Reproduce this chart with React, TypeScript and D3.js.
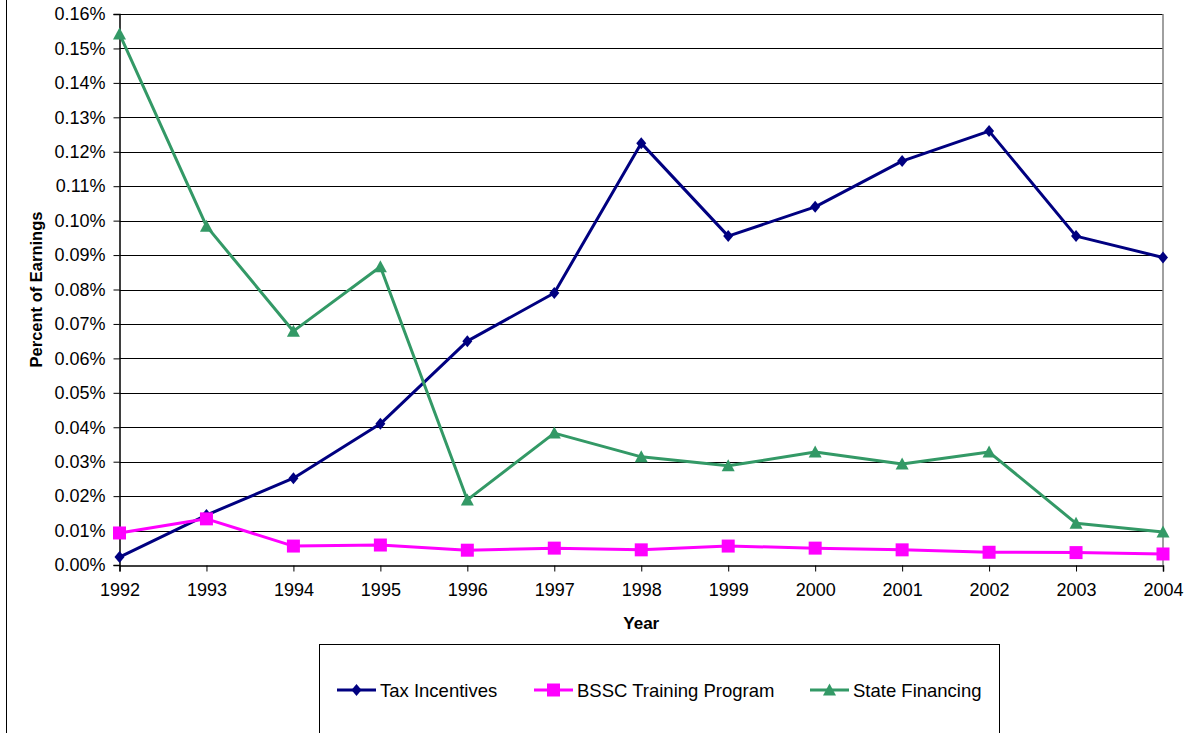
import * as d3 from "d3";
import {useEffect, useRef} from "react";

const years = [1992, 1993, 1994, 1995, 1996, 1997, 1998, 1999, 2000, 2001, 2002, 2003, 2004];
const taxIncentives = [0.0023, 0.0145, 0.0252, 0.041, 0.065, 0.079, 0.1225, 0.0955, 0.104, 0.1173, 0.126, 0.0955, 0.0893];
const bsscTraining = [0.0093, 0.0134, 0.0055, 0.0058, 0.0043, 0.0049, 0.0044, 0.0055, 0.0049, 0.0044, 0.0037, 0.0036, 0.0032];
const stateFinancing = [0.1542, 0.0984, 0.0679, 0.0866, 0.0189, 0.0383, 0.0314, 0.0288, 0.0328, 0.0293, 0.0328, 0.0121, 0.0096];
const yTicks = [0, 0.01, 0.02, 0.03, 0.04, 0.05, 0.06, 0.07, 0.08, 0.09, 0.1, 0.11, 0.12, 0.13, 0.14, 0.15, 0.16];

const series = [
    {name: "Tax Incentives", values: taxIncentives, color: "#000080", marker: "diamond"},
    {name: "BSSC Training Program", values: bsscTraining, color: "#FF00FF", marker: "square"},
    {name: "State Financing", values: stateFinancing, color: "#339966", marker: "triangle"},
];

export default function App() {
    const svgRef = useRef(null);
    const width = 1187;
    const height = 733;
    const margin = {top: 14, right: 24, bottom: 168, left: 119.5};

    useEffect(() => {
        if (!svgRef.current) return;
        d3.select(svgRef.current).selectAll("*").remove();
        const svg = d3.select(svgRef.current);
        const font = "'Liberation Sans', Arial, sans-serif";

        const x = d3.scaleLinear()
            .domain([1992, 2004])
            .range([margin.left, width - margin.right]);
        const y = d3.scaleLinear()
            .domain([0, 0.16])
            .range([height - margin.bottom, margin.top]);

        // outer chart border (only the left edge is visible)
        svg.append("rect")
            .attr("x", 6.5).attr("y", -5)
            .attr("width", 1300).attr("height", 800)
            .attr("fill", "none").attr("stroke", "#000").attr("stroke-width", 1);

        // gridlines
        svg.append("g").selectAll("line")
            .data(yTicks.slice(1))
            .join("line")
            .attr("x1", x(1992)).attr("x2", x(2004))
            .attr("y1", d => Math.round(y(d)) + 0.5).attr("y2", d => Math.round(y(d)) + 0.5)
            .attr("stroke", "#000").attr("stroke-width", 1);

        // right border
        svg.append("line")
            .attr("x1", x(2004)).attr("x2", x(2004))
            .attr("y1", y(0.16)).attr("y2", y(0))
            .attr("stroke", "#808080").attr("stroke-width", 1.5);

        // y axis
        const yAxis = svg.append("g")
            .attr("transform", `translate(${margin.left},0)`)
            .call(d3.axisLeft(y).tickValues(yTicks).tickSize(6).tickPadding(8)
                .tickFormat(d => `${(+d).toFixed(2)}%`));
        yAxis.select(".domain").attr("stroke", "#000").attr("stroke-width", 1.5);
        yAxis.selectAll(".tick line").attr("stroke", "#000");
        yAxis.selectAll("text").attr("font-family", font).attr("font-size", 18).attr("fill", "#000");

        // x axis
        const xAxis = svg.append("g")
            .attr("transform", `translate(0,${y(0) + 0.5})`)
            .call(d3.axisBottom(x).tickValues(years).tickSize(6).tickPadding(12)
                .tickFormat(d3.format("d")));
        xAxis.select(".domain").attr("stroke", "#000").attr("stroke-width", 1.5);
        xAxis.selectAll(".tick line").attr("stroke", "#000");
        xAxis.selectAll("text").attr("font-family", font).attr("font-size", 18).attr("fill", "#000");

        // axis titles
        svg.append("text")
            .attr("transform", `translate(42,${(y(0) + y(0.16)) / 2}) rotate(-90)`)
            .attr("text-anchor", "middle")
            .attr("font-family", font).attr("font-size", 16.5).attr("font-weight", "bold")
            .text("Percent of Earnings");
        svg.append("text")
            .attr("x", (x(1992) + x(2004)) / 2).attr("y", 629)
            .attr("text-anchor", "middle")
            .attr("font-family", font).attr("font-size", 17).attr("font-weight", "bold")
            .text("Year");

        const markerPath = (type: string) => {
            if (type === "diamond") return "M0,-6L5,0L0,6L-5,0Z";
            if (type === "square") return "M-6.5,-6.5H6.5V6.5H-6.5Z";
            return "M0,-6.5L6.5,5.5H-6.5Z";
        };

        const line = d3.line<number>()
            .x((_, i) => x(years[i]))
            .y(d => y(d));

        series.forEach(s => {
            svg.append("path")
                .datum(s.values)
                .attr("d", line)
                .attr("fill", "none")
                .attr("stroke", s.color)
                .attr("stroke-width", 3)
                .attr("stroke-linejoin", "round");
            svg.append("g").selectAll("path")
                .data(s.values)
                .join("path")
                .attr("transform", (d, i) => `translate(${x(years[i])},${y(d)})`)
                .attr("d", markerPath(s.marker))
                .attr("fill", s.color);
        });

        // legend
        const legend = svg.append("g");
        legend.append("rect")
            .attr("x", 319.5).attr("y", 644.5)
            .attr("width", 680).attr("height", 120)
            .attr("fill", "#fff").attr("stroke", "#000").attr("stroke-width", 1);
        const legendX = [337, 534, 810];
        series.forEach((s, i) => {
            const lx = legendX[i];
            legend.append("line")
                .attr("x1", lx).attr("x2", lx + 39)
                .attr("y1", 690).attr("y2", 690)
                .attr("stroke", s.color).attr("stroke-width", 3);
            legend.append("path")
                .attr("transform", `translate(${lx + 19.5},690)`)
                .attr("d", markerPath(s.marker))
                .attr("fill", s.color);
            legend.append("text")
                .attr("x", lx + 43).attr("y", 697)
                .attr("font-family", font).attr("font-size", 18.5)
                .text(s.name);
        });
    }, []);

    return (
        <svg ref={svgRef} width={width} height={height}
             style={{position: "absolute", left: 0, top: 0, background: "#fff"}}></svg>
    );
}
